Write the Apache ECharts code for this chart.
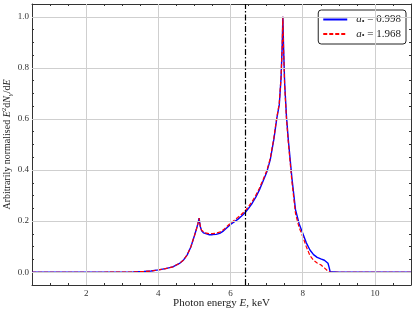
<!DOCTYPE html>
<html><head><meta charset="utf-8">
<script src="https://cdn.jsdelivr.net/npm/echarts@6/dist/echarts.min.js"></script>
<style>html,body{margin:0;padding:0;background:#fff}#c{width:415px;height:313px}</style>
</head><body><div id="c"></div>
<script>
// ---- data ----
const energy = [0.5, 1.0, 1.5, 2.0, 2.5, 3.0, 3.3, 3.6, 3.8, 4.0, 4.2, 4.4, 4.6, 4.7, 4.8, 4.9, 5.0, 5.05, 5.1, 5.13, 5.16, 5.2, 5.25, 5.3, 5.4, 5.5, 5.6, 5.7, 5.8, 5.9, 6.0, 6.1, 6.2, 6.3, 6.4, 6.5, 6.6, 6.7, 6.8, 6.9, 7.0, 7.1, 7.2, 7.28, 7.35, 7.4, 7.43, 7.45, 7.47, 7.5, 7.55, 7.6, 7.7, 7.8, 7.9, 8.0, 8.1, 8.2, 8.3, 8.4, 8.5, 8.6, 8.65, 8.7, 8.73, 8.76, 8.8, 9.0, 10.0, 11.0];
const specLow = [0, 0, 0, 0, 0, 0.0005, 0.001, 0.003, 0.005, 0.009, 0.014, 0.021, 0.036, 0.048, 0.068, 0.099, 0.143, 0.166, 0.192, 0.212, 0.18, 0.162, 0.154, 0.150, 0.147, 0.147, 0.148, 0.152, 0.161, 0.174, 0.187, 0.197, 0.207, 0.219, 0.233, 0.25, 0.27, 0.294, 0.322, 0.356, 0.39, 0.44, 0.52, 0.60, 0.655, 0.76, 0.88, 1.0, 0.88, 0.74, 0.61, 0.52, 0.37, 0.245, 0.19, 0.153, 0.115, 0.087, 0.069, 0.058, 0.052, 0.047, 0.043, 0.035, 0.02, 0.002, 0, 0, 0, 0];
const specHigh = [0, 0, 0, 0, 0, 0.0005, 0.001, 0.003, 0.005, 0.009, 0.014, 0.021, 0.036, 0.048, 0.068, 0.099, 0.143, 0.166, 0.192, 0.212, 0.181, 0.164, 0.157, 0.154, 0.151, 0.151, 0.153, 0.157, 0.166, 0.179, 0.192, 0.203, 0.214, 0.226, 0.240, 0.257, 0.277, 0.301, 0.329, 0.362, 0.396, 0.445, 0.525, 0.605, 0.66, 0.765, 0.88, 1.0, 0.87, 0.73, 0.60, 0.51, 0.355, 0.23, 0.175, 0.14, 0.1, 0.065, 0.047, 0.036, 0.029, 0.017, 0.010, 0.004, 0.001, 0, 0, 0, 0, 0];
const seriesLabels = ['0.998', '1.968'];
const xMajorTicks = [2, 4, 6, 8, 10];
const yMajorTicks = [0, 0.2, 0.4, 0.6, 0.8, 1.0];
const ironLineE = 6.4;
const xRange = [0.5, 11];
const yRange = [-0.05, 1.05];

// ---- chart ----
const FONT = 'Liberation Serif, DejaVu Serif, serif';
const AX = '#333';
const GRIDC = '#cfcfcf';
const zip = (xs, ys) => xs.map((x, i) => [x, ys[i]]);

function xAx(pos, major, extra) {
  return Object.assign({
    type: 'value', position: pos, min: xRange[0], max: xRange[1],
    interval: 0.5,
    axisLine: { show: !major, onZero: false, lineStyle: { color: AX, width: 1 } },
    axisTick: major ? { show: true, inside: true, length: 4, customValues: xMajorTicks, lineStyle: { color: AX } }
                    : { show: true, inside: true, length: 2, lineStyle: { color: AX } },
    axisLabel: { show: false },
    splitLine: { show: false }
  }, extra || {});
}
function yAx(pos, major, extra) {
  return Object.assign({
    type: 'value', position: pos, min: yRange[0], max: yRange[1],
    interval: 0.05,
    axisLine: { show: !major, onZero: false, lineStyle: { color: AX, width: 1 } },
    axisTick: major ? { show: true, inside: true, length: 4, customValues: yMajorTicks, lineStyle: { color: AX } }
                    : { show: true, inside: true, length: 2, lineStyle: { color: AX } },
    axisLabel: { show: false },
    splitLine: { show: false }
  }, extra || {});
}

const option = {
  animation: false,
  backgroundColor: '#fff',
  grid: { left: 32, right: 4, top: 4, bottom: 28, containLabel: false, outerBoundsMode: 'none' },
  xAxis: [
    xAx('bottom', false, {
      name: 'Photon energy {i|E}, keV', nameLocation: 'middle', nameGap: 13,
      nameTextStyle: { fontFamily: FONT, fontSize: 11, color: '#222',
        rich: { i: { fontFamily: FONT, fontStyle: 'italic', fontSize: 11, color: '#222' } } }
    }),
    xAx('bottom', true, {
      axisLabel: { show: true, customValues: xMajorTicks, margin: 4, fontFamily: FONT, fontSize: 9, color: '#333',
        formatter: v => String(v) }
    }),
    xAx('top', false),
    xAx('top', true)
  ],
  yAxis: [
    yAx('left', false, {
      name: 'Arbitrarily normalised {i|E}{sup|2}d{i|N}{sub|γ}/d{i|E}', nameLocation: 'middle', nameGap: 18,
      nameTextStyle: { fontFamily: FONT, fontSize: 10, color: '#222',
        rich: {
          i: { fontFamily: FONT, fontStyle: 'italic', fontSize: 10, color: '#222' },
          sup: { fontFamily: FONT, fontSize: 7, color: '#222', padding: [0, 0, 6, 0] },
          sub: { fontFamily: FONT, fontStyle: 'italic', fontSize: 7, color: '#222', padding: [5, 0, 0, 0] }
        } }
    }),
    yAx('left', true, {
      axisLabel: { show: true, customValues: yMajorTicks, margin: 3, fontFamily: FONT, fontSize: 9, color: '#333',
        formatter: v => v.toFixed(1) }
    }),
    yAx('right', false),
    yAx('right', true)
  ],
  legend: {
    orient: 'vertical', right: 9, top: 10,
    backgroundColor: '#fff', borderColor: '#222', borderWidth: 1, borderRadius: 3,
    padding: [4, 5, 4, 4], itemGap: 3, itemWidth: 24, itemHeight: 10,
    itemStyle: { opacity: 0 },
    data: seriesLabels,
    formatter: name => '{i|a}{s|•}{n| = ' + name + '}',
    textStyle: {
      fontFamily: FONT, fontSize: 10, color: '#222', padding: [0, 0, 0, 4],
      rich: {
        i: { fontFamily: FONT, fontStyle: 'italic', fontSize: 11, color: '#222' },
        s: { fontFamily: FONT, fontSize: 8, color: '#222', padding: [4, 0, 0, 0] },
        n: { fontFamily: FONT, fontSize: 11, color: '#222' }
      }
    }
  },
  series: [
    {
      name: '__grid', type: 'line', data: [], silent: true, z: 1,
      markLine: {
        silent: true, symbol: 'none', animation: false, label: { show: false },
        lineStyle: { color: GRIDC, width: 1, type: 'solid' },
        emphasis: { disabled: true },
        data: xMajorTicks.map(v => ({ xAxis: v })).concat(yMajorTicks.map(v => ({ yAxis: v })))
      }
    },
    {
      name: seriesLabels[0], type: 'line', data: zip(energy, specLow), showSymbol: false, symbol: 'none',
      z: 3, lineStyle: { color: '#0000ff', width: 1.4 }, itemStyle: { color: '#0000ff' }
    },
    {
      name: seriesLabels[1], type: 'line', data: zip(energy, specHigh), showSymbol: false, symbol: 'none',
      z: 4, lineStyle: { color: '#ff0000', width: 1.2, type: [4, 2] }, itemStyle: { color: '#ff0000' }
    },
    {
      name: '__fe', type: 'line', data: [], silent: true, z: 5,
      markLine: {
        silent: true, symbol: 'none', animation: false, label: { show: false },
        lineStyle: { color: '#000', width: 1.2, type: [6, 2, 1.5, 2] },
        emphasis: { disabled: true },
        data: [{ xAxis: ironLineE }]
      }
    }
  ]
};
const chart = echarts.init(document.getElementById('c'), null, { renderer: 'canvas' });
chart.setOption(option);
</script>
</body></html>
